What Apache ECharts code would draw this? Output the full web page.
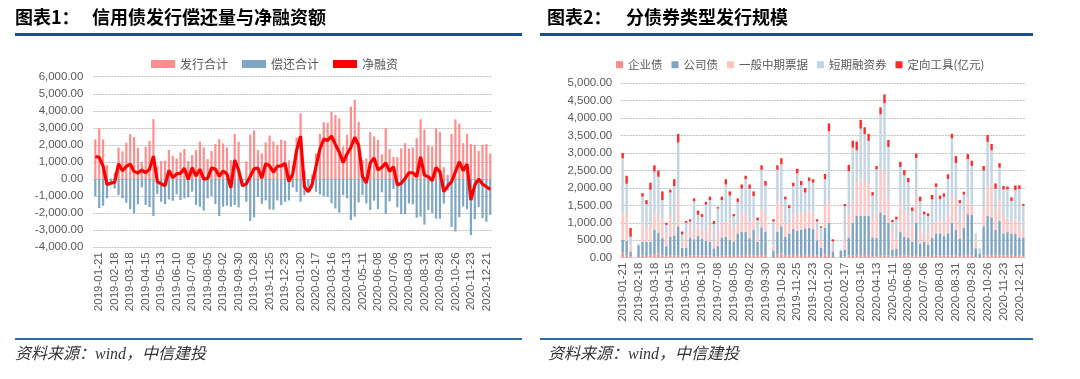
<!DOCTYPE html>
<html><head><meta charset="utf-8">
<script src="https://cdn.jsdelivr.net/npm/echarts@6/dist/echarts.min.js"></script>
<style>html,body{margin:0;padding:0;background:#fff;}#c{width:1080px;height:379px;}</style>
</head><body><div id="c"></div>
<script>
const dates1 = ['2019-01-14','2019-01-21','2019-01-28','2019-02-04','2019-02-11','2019-02-18','2019-02-25','2019-03-04','2019-03-11','2019-03-18','2019-03-25','2019-04-01','2019-04-08','2019-04-15','2019-04-22','2019-04-29','2019-05-06','2019-05-13','2019-05-20','2019-05-27','2019-06-03','2019-06-10','2019-06-17','2019-06-24','2019-07-01','2019-07-08','2019-07-15','2019-07-22','2019-07-29','2019-08-05','2019-08-12','2019-08-19','2019-08-26','2019-09-02','2019-09-09','2019-09-16','2019-09-23','2019-09-30','2019-10-07','2019-10-14','2019-10-21','2019-10-28','2019-11-04','2019-11-11','2019-11-18','2019-11-25','2019-12-02','2019-12-09','2019-12-16','2019-12-23','2019-12-30','2020-01-06','2020-01-13','2020-01-20','2020-01-27','2020-02-03','2020-02-10','2020-02-17','2020-02-24','2020-03-02','2020-03-09','2020-03-16','2020-03-23','2020-03-30','2020-04-06','2020-04-13','2020-04-20','2020-04-27','2020-05-04','2020-05-11','2020-05-18','2020-05-25','2020-06-01','2020-06-08','2020-06-15','2020-06-22','2020-06-29','2020-07-06','2020-07-13','2020-07-20','2020-07-27','2020-08-03','2020-08-10','2020-08-17','2020-08-24','2020-08-31','2020-09-07','2020-09-14','2020-09-21','2020-09-28','2020-10-05','2020-10-12','2020-10-19','2020-10-26','2020-11-02','2020-11-09','2020-11-16','2020-11-23','2020-11-30','2020-12-07','2020-12-14','2020-12-21','2020-12-28'];
const dates2 = dates1.slice(1);

// 图表1
const issue1 = [2320,2970,2320,820,30,370,1840,1620,2130,2640,
2460,1840,1015,1895,2230,3515,730,1055,1075,1700,
1350,1210,1560,1760,1055,1400,1700,2200,1855,1170,
1640,2050,2340,2090,1855,1110,2640,2190,0,1050,
2600,2850,1700,1500,2150,2550,2200,2000,2300,2250,
1100,800,2450,3850,500,0,250,1500,2650,3350,
3300,3950,3750,3550,1900,2600,4250,4650,3350,1100,
1200,2750,2500,2290,1450,3000,1750,1300,1300,1800,
2100,1800,1850,2400,3500,2900,1950,1900,3000,2750,
700,250,2650,3500,3250,2100,2650,2050,2000,1650,
2000,2050,1500];
const repay1 = [-1000,-1700,-1560,-1130,-280,-550,-940,-1130,-1390,-1760,
-2010,-1480,-490,-1520,-1650,-2170,-880,-1330,-1465,-1190,
-1270,-900,-1230,-1130,-1075,-740,-1520,-1620,-1855,-1130,
-1000,-1465,-2170,-1620,-1560,-1620,-1520,-1660,-400,-1330,
-2450,-2250,-1050,-1450,-1250,-1780,-1800,-1250,-1530,-1330,
-1250,-480,-750,-1330,-950,-750,-550,-750,-900,-1000,
-1035,-1425,-1720,-1970,-940,-1130,-2400,-2200,-1370,-940,
-1425,-1815,-1270,-1760,-770,-2050,-1300,-580,-1650,-2050,
-2060,-1430,-1480,-2260,-2200,-2670,-1810,-2000,-2320,-2320,
-1440,-660,-2800,-3070,-2235,-1610,-1770,-3280,-2350,-1650,
-2290,-2500,-2100];
const net1 = [1320,1270,760,-310,-250,-180,900,490,740,880,
450,360,525,375,580,1345,-150,-275,-390,510,
80,310,330,630,-20,660,180,580,0,40,
640,585,170,470,295,-510,1120,530,-400,-280,
150,600,650,50,900,770,400,750,770,920,
-150,320,1700,2520,-450,-750,-300,750,1750,2350,
2265,2525,2030,1580,960,1470,1850,2450,1980,160,
-225,935,1230,530,680,950,450,720,-350,-250,
40,370,370,140,1300,230,140,-100,680,430,
-740,-410,-150,430,1015,490,880,-1230,-350,0,
-290,-450,-600];

// 图表2
const ent2 = [150,60,30,0,20,60,50,60,100,120,
60,40,60,60,60,30,40,60,60,60,
60,60,60,30,40,60,60,60,50,60,
60,80,60,60,60,80,60,0,20,100,
120,60,60,80,80,80,60,80,80,60,
30,100,80,20,0,0,30,60,60,60,
80,80,80,40,40,60,60,60,30,30,
60,60,60,40,80,40,40,40,50,60,
60,60,60,60,60,40,60,60,60,20,
0,60,80,60,60,60,60,60,60,50,
60,40];
const corp2 = [370,420,150,0,330,390,400,390,700,600,
500,290,540,580,840,250,250,520,470,560,
480,420,400,240,300,520,540,460,420,640,
690,670,500,750,400,790,680,0,180,640,
780,540,630,740,690,720,780,780,740,440,
250,750,920,160,0,200,190,520,940,1140,
1120,1120,1120,540,520,1240,1170,940,200,220,
690,540,520,410,920,360,410,340,520,640,
640,560,640,940,740,510,790,1190,1170,250,
120,840,1120,1100,740,990,640,670,620,630,
520,540];
const mtn2 = [750,800,170,0,0,500,400,550,470,530,
540,370,600,360,900,170,410,370,170,330,
260,270,540,180,510,420,400,580,380,300,
550,450,440,290,190,530,510,0,150,860,
600,400,310,430,480,500,460,490,480,300,
220,650,650,70,0,0,280,670,600,950,
1050,1000,900,520,740,1200,1270,700,600,300,
850,750,620,450,770,450,250,320,430,300,
400,430,500,750,850,450,450,450,270,180,
0,500,850,940,550,600,500,420,320,420,
420,220];
const cp2 = [1580,840,250,0,50,800,680,950,1200,1070,
550,240,670,1050,1500,220,300,90,920,280,
370,770,650,520,560,650,1100,680,340,600,
680,1050,980,670,420,1120,820,0,690,920,
1180,670,420,800,1170,780,570,850,850,240,
360,750,1970,215,0,40,980,1230,1555,930,
1450,1340,1250,680,1230,1610,1930,1475,190,545,
1000,1010,960,440,1090,770,540,490,670,1030,
580,695,1060,1670,1065,570,510,1120,1130,250,
150,1100,1270,980,630,930,755,810,630,840,
975,690];
const ppn2 = [150,230,250,0,0,100,120,200,180,180,
250,60,80,200,250,80,50,60,80,120,
80,80,100,80,40,100,150,120,60,100,
120,100,120,130,80,130,130,0,60,130,
170,80,80,100,130,120,130,100,100,60,
40,150,230,60,0,0,60,180,200,250,
250,200,200,100,100,200,250,200,60,80,
150,150,130,100,130,130,80,80,130,100,
100,100,130,130,200,80,80,150,150,0,
0,130,200,180,150,130,100,80,100,130,
100,50];

const yTicks1 = {min:-4000, max:6000, interval:1000};
const yTicks2 = {min:0, max:5000, interval:500};

const fmt = v => Number(v).toLocaleString('en-US',{minimumFractionDigits:2, maximumFractionDigits:2});
const axisFont = {fontFamily:'Liberation Sans, Arial, sans-serif', fontSize:11.5, color:'#595959'};
const cjk = 'Noto Sans CJK SC';

const chart = echarts.init(document.getElementById('c'), null, {renderer:'canvas'});

chart.setOption({
  animation:false,
  backgroundColor:'#fff',
  graphic:[
    {type:'text', left:15, top:8, style:{text:'图表1：', font:'bold 18px "Noto Sans CJK SC"', fill:'#000'}},
    {type:'text', left:92, top:8, style:{text:'信用债发行偿还量与净融资额', font:'bold 18px "Noto Sans CJK SC"', fill:'#000'}},
    {type:'text', left:547, top:8, style:{text:'图表2：', font:'bold 18px "Noto Sans CJK SC"', fill:'#000'}},
    {type:'text', left:626, top:8, style:{text:'分债券类型发行规模', font:'bold 18px "Noto Sans CJK SC"', fill:'#000'}},
    {type:'rect', shape:{x:15, y:33, width:507, height:3}, style:{fill:'#1d4e86'}},
    {type:'rect', shape:{x:540, y:33, width:493, height:3}, style:{fill:'#1d4e86'}},
    {type:'rect', shape:{x:15, y:338, width:507, height:2}, style:{fill:'#2f6aa5'}},
    {type:'rect', shape:{x:540, y:338, width:493, height:2}, style:{fill:'#2f6aa5'}},
    {type:'text', left:15, top:347, style:{text:'资料来源：wind，中信建投', font:'italic 16px "Liberation Serif", "Noto Sans CJK SC"', fill:'#333'}},
    {type:'text', left:548, top:347, style:{text:'资料来源：wind，中信建投', font:'italic 16px "Liberation Serif", "Noto Sans CJK SC"', fill:'#333'}}
  ],
  legend:[
    {left:146, top:53, itemWidth:24, itemHeight:8, itemGap:14, icon:'rect',
     textStyle:{fontFamily:cjk, fontSize:12, color:'#595959'},
     data:[{name:'发行合计'},{name:'偿还合计'},{name:'净融资', icon:'rect'}]},
    {left:611, top:54, itemWidth:7, itemHeight:7, itemGap:9, icon:'rect',
     textStyle:{fontFamily:cjk, fontSize:11.5, color:'#595959'},
     data:['企业债','公司债','一般中期票据','短期融资券','定向工具(亿元)']}
  ],
  grid:[
    {left:93.4, top:76.7, width:398.8, height:170.6, containLabel:false},
    {left:620.7, top:83.3, width:404.6, height:174.4, containLabel:false}
  ],
  xAxis:[
    {type:'category', gridIndex:0, data:dates1, boundaryGap:true,
     axisLine:{show:false}, axisTick:{show:false},
     axisLabel:Object.assign({rotate:90, margin:5, interval:(i)=> (i-1)%4===0}, axisFont)},
    {type:'category', gridIndex:1, data:dates2, boundaryGap:true,
     axisLine:{show:true, lineStyle:{color:'#d9d9d9'}}, axisTick:{show:false},
     axisLabel:Object.assign({rotate:90, margin:5, interval:(i)=> i%4===0}, axisFont)}
  ],
  yAxis:[
    Object.assign({type:'value', gridIndex:0, axisLine:{show:false}, axisTick:{show:false},
     splitLine:{lineStyle:{color:'#bfbfbf', type:[2,1]}},
     axisLabel:Object.assign({margin:10, formatter:fmt}, axisFont)}, yTicks1),
    Object.assign({type:'value', gridIndex:1, axisLine:{show:false}, axisTick:{show:false},
     splitLine:{lineStyle:{color:'#bfbfbf', type:[2,1]}},
     axisLabel:Object.assign({margin:8.5, formatter:fmt}, axisFont)}, yTicks2)
  ],
  series:[
    {name:'发行合计', type:'bar', xAxisIndex:0, yAxisIndex:0, data:issue1, barWidth:2.2, barGap:'-100%', itemStyle:{color:'#ff8f8f'}},
    {name:'偿还合计', type:'bar', xAxisIndex:0, yAxisIndex:0, data:repay1, barWidth:2.2, barGap:'-100%', itemStyle:{color:'#7fa6c2'}},
    {name:'净融资', type:'line', xAxisIndex:0, yAxisIndex:0, data:net1, symbol:'none', lineStyle:{color:'#ff0000', width:3.2}, itemStyle:{color:'#ff0000'}, z:5},
    {name:'企业债', type:'bar', stack:'t', xAxisIndex:1, yAxisIndex:1, data:ent2, barWidth:2.4, itemStyle:{color:'#ff8a8a'}},
    {name:'公司债', type:'bar', stack:'t', xAxisIndex:1, yAxisIndex:1, data:corp2, barWidth:2.4, itemStyle:{color:'#7ea4c3'}},
    {name:'一般中期票据', type:'bar', stack:'t', xAxisIndex:1, yAxisIndex:1, data:mtn2, barWidth:2.4, itemStyle:{color:'#ffc4c4'}},
    {name:'短期融资券', type:'bar', stack:'t', xAxisIndex:1, yAxisIndex:1, data:cp2, barWidth:2.4, itemStyle:{color:'#c3d5e4'}},
    {name:'定向工具(亿元)', type:'bar', stack:'t', xAxisIndex:1, yAxisIndex:1, data:ppn2, barWidth:2.4, itemStyle:{color:'#ff2a2a'}}
  ]
});
</script></body></html>
